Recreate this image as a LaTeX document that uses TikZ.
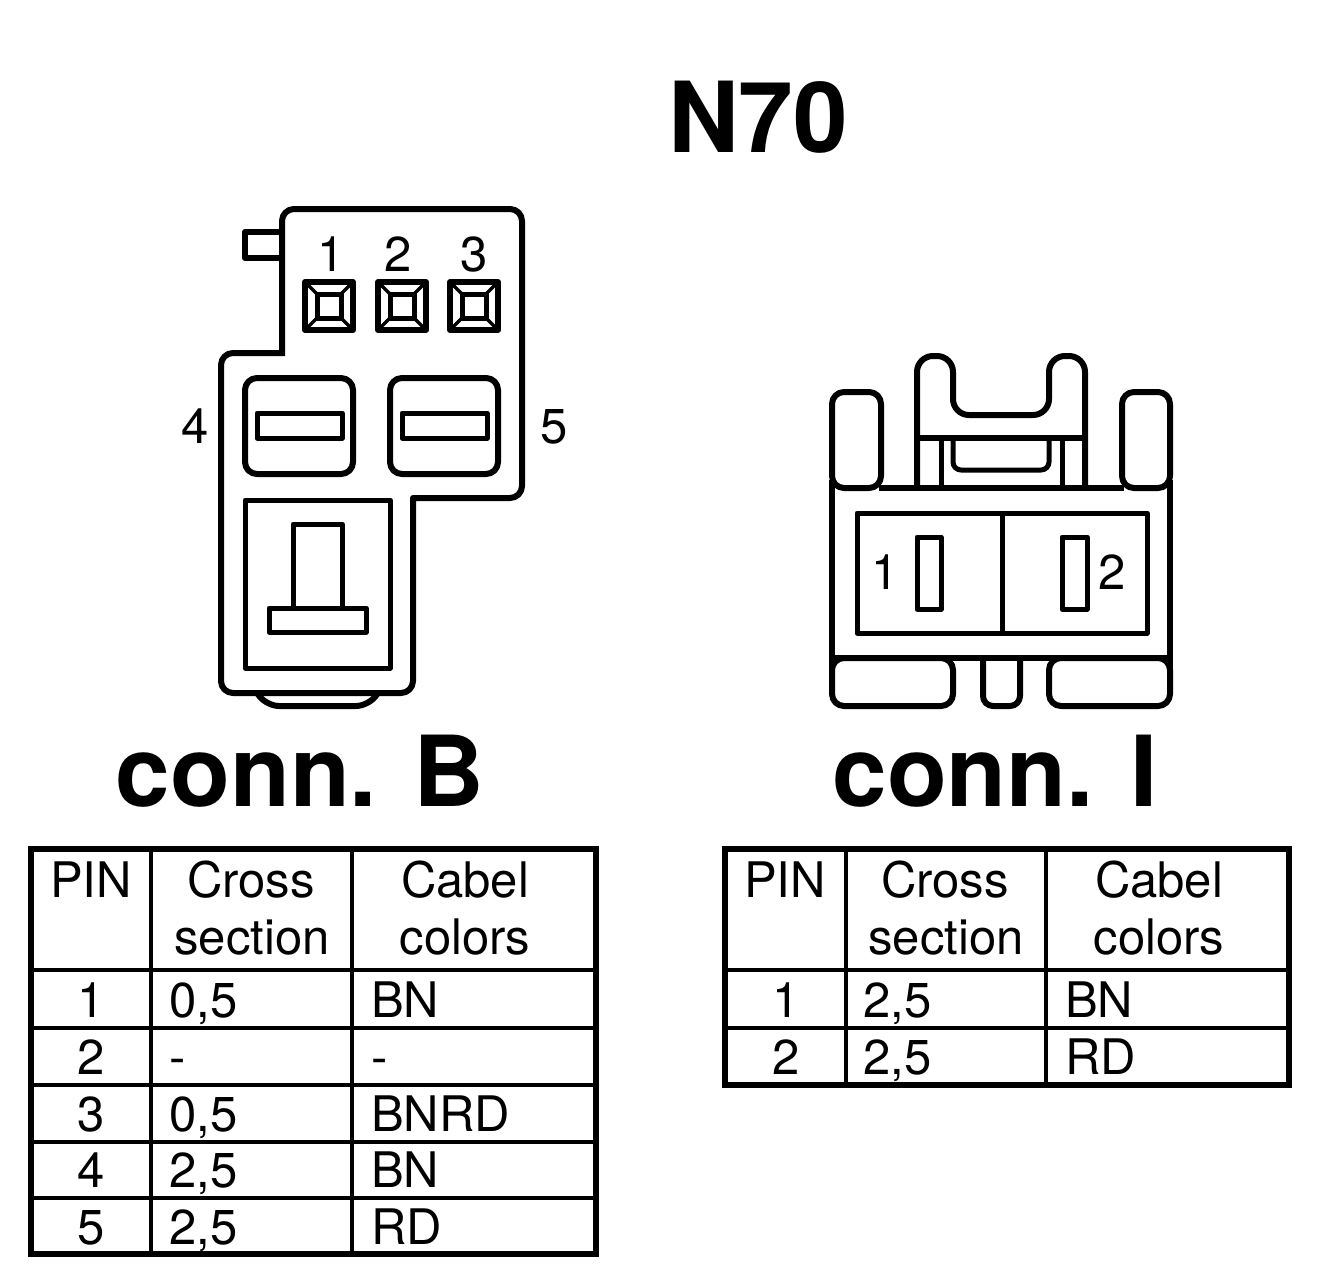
\documentclass[tikz,border=0pt]{standalone}
\usepackage{fontspec}
\setmainfont{TeX Gyre Heros}
\usetikzlibrary{positioning,calc}

\begin{document}
\begin{tikzpicture}[x=1pt, y=-1pt,
    partline/.style={line width=6pt, line join=round, black},
    innerline/.style={line width=5pt, line join=round, black},
    thinline/.style={line width=3.5pt, black},
    gridline/.style={line width=4.5pt, black},
    framedline/.style={line width=6.5pt, black},
    titletext/.style={inner sep=0pt, anchor=base, font=\fontsize{98}{98}\selectfont\bfseries},
    tabletext/.style={inner sep=0pt, anchor=base, font=\fontsize{49}{49}\selectfont},
    valuetext/.style={inner sep=0pt, anchor=base west, font=\fontsize{49}{49}\selectfont}]
    \useasboundingbox (0,0) rectangle (1328,1280);
    \fill[white] (0,0) rectangle (1328,1280);

    \node[titletext] (title) at (758,152) {N70};
    \node[titletext] (titleB) at (300,806) {conn. B};
    \node[titletext] (titleI) at (995,806) {conn. I};

    \draw[partline, rounded corners=12pt] (282,356) -- (282,209) -- (522,209) -- (522,498)
        [sharp corners] -- (413,498) [rounded corners=12pt] -- (413,693) -- (221,693) -- (221,353) [sharp corners] -- (285,353);
    \draw[partline, rounded corners=12pt] (257,693) -- (267,706) -- (368,706) -- (378,693);
    \draw[partline] (282,232) -- (245,232) -- (245,258) -- (282,258);

    \foreach \n/\x/\lx in {1/329/331,2/402/398,3/474/474}{
        \node[tabletext] (pinB\n) at (\lx,271) {\n};
        \draw[partline] (\x-24,282) rectangle (\x+24,330);
        \draw[innerline] (\x-12,294) rectangle (\x+12,318);
        \draw[thinline] (\x-24,282) -- (\x-12,294) (\x+24,282) -- (\x+12,294) (\x-24,330) -- (\x-12,318) (\x+24,330) -- (\x+12,318);
    }

    \draw[partline, rounded corners=12pt] (245,378) rectangle (353,474);
    \draw[partline, rounded corners=12pt] (390,378) rectangle (498,474);
    \draw[innerline] (257,413) rectangle (342,438);
    \draw[innerline] (402,413) rectangle (487,438);
    \node[tabletext] (pinB4) at (195,443) {4};
    \node[tabletext] (pinB5) at (554,443) {5};

    \draw[innerline] (245,500) rectangle (390,668);
    \draw[innerline] (293,524) rectangle (342,608);
    \draw[innerline, fill=white] (269,608) rectangle (366,632);

    \draw[partline, rounded corners=12pt] (832,392) rectangle (881,488);
    \draw[partline, rounded corners=12pt] (1122,392) rectangle (1170,488);
    \draw[partline] (879,488) -- (1124,488);
    \draw[partline] (832,480) -- (832,680) (1170,480) -- (1170,680);
    \draw[partline, rounded corners=16pt] (917,488) -- (917,356) -- (953,356) -- (953,415) -- (1049,415) -- (1049,356) -- (1085,356) -- (1085,488);
    \draw[partline] (917,438) -- (1085,438);
    \draw[innerline] (941,438) -- (941,488) (1062,438) -- (1062,488);
    \draw[innerline, rounded corners=8pt] (953,438) -- (953,470) -- (1049,470) -- (1049,438);
    \draw[innerline] (857,513) rectangle (1147,633);
    \draw[innerline] (1002,513) -- (1002,633);
    \draw[innerline] (917,537) rectangle (941,609);
    \draw[innerline] (1062,537) rectangle (1087,609);
    \node[tabletext] (pinI1) at (885,589) {1};
    \node[tabletext] (pinI2) at (1112,589) {2};
    \draw[partline, rounded corners=12pt] (832,658) rectangle (953,706);
    \draw[partline, rounded corners=12pt] (1049,658) rectangle (1170,706);
    \draw[partline] (832,658) -- (1170,658);
    \draw[partline, rounded corners=10pt] (983,658) -- (983,706) -- (1020,706) -- (1020,658);

    \draw[framedline] (31,849) rectangle (596,1254);
    \draw[gridline] (151,849) -- (151,1254) (352,849) -- (352,1254);
    \foreach \y in {970,1028,1085,1142,1198}
        \draw[gridline] (31,\y) -- (596,\y);

    \draw[framedline] (725,849) rectangle (1289,1085);
    \draw[gridline] (846,849) -- (846,1085) (1046,849) -- (1046,1085);
    \foreach \y in {970,1028}
        \draw[gridline] (725,\y) -- (1289,\y);

    \foreach \t/\dx in {B/0,I/694}{
        \node[tabletext] (pin\t) at (91+\dx,897) {PIN};
        \node[tabletext] (cross\t) at (251+\dx,897) {Cross};
        \node[tabletext] (section\t) at (252+\dx,954) {section};
        \node[tabletext] (cabel\t) at (465+\dx,897) {Cabel};
        \node[tabletext] (colors\t) at (465+\dx,954) {colors};
    }

    \foreach \n/\s/\c/\y in {1/{0,5}/BN/1017,2/-/-/1074,3/{0,5}/BNRD/1131,4/{2,5}/BN/1187,5/{2,5}/RD/1244}{
        \node[tabletext] (rowB\n) at (91,\y) {\n};
        \node[valuetext] (sectB\n) at (169,\y) {\s};
        \node[valuetext] (colB\n) at (371,\y) {\c};
    }
    \foreach \n/\s/\c/\y in {1/{2,5}/BN/1017,2/{2,5}/RD/1074}{
        \node[tabletext] (rowI\n) at (786,\y) {\n};
        \node[valuetext] (sectI\n) at (863,\y) {\s};
        \node[valuetext] (colI\n) at (1065,\y) {\c};
    }
\end{tikzpicture}
\end{document}
